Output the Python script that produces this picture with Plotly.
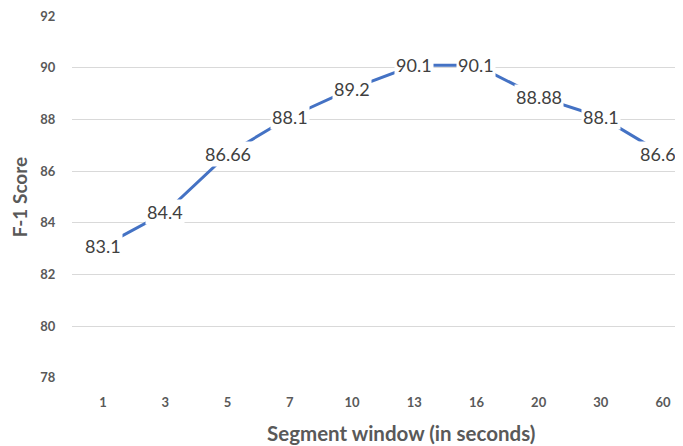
import plotly.graph_objects as go

categories = ["1", "3", "5", "7", "10", "13", "16", "20", "30", "60"]
f1_scores = [83.1, 84.4, 86.66, 88.1, 89.2, 90.1, 90.1, 88.88, 88.1, 86.66]
y_ticks = [78, 80, 82, 84, 86, 88, 90, 92]

FONT = "Lato, Open Sans, sans-serif"
GREY = "#595959"

# page body adds an 8px offset; figure sized so the plot sits where the reference has it
fig = go.Figure()
fig.add_trace(go.Scatter(
    x=list(range(len(categories))), y=f1_scores, mode="lines",
    line=dict(color="#4472C4", width=3), hoverinfo="skip", showlegend=False,
))

for i, v in enumerate(f1_scores):
    fig.add_annotation(
        x=i, y=v, xref="x", yref="y", text=f"{v:g}", showarrow=False,
        bgcolor="white", borderpad=1,
        font=dict(family=FONT, size=18, color="#404040"),
        xanchor="center", yanchor="middle",
    )

fig.add_annotation(
    x=(401 - 72) / (683 - 72), y=-(433 - 378) / (378 - 16),
    xref="paper", yref="paper", text="<b>Segment window (in seconds)</b>",
    showarrow=False, xanchor="center", yanchor="middle",
    font=dict(family=FONT, size=20.5, color=GREY),
)

fig.update_layout(
    width=675, height=438,
    margin=dict(l=64, r=0, t=8, b=68),
    paper_bgcolor="white", plot_bgcolor="white",
    xaxis=dict(
        tickmode="array", tickvals=list(range(len(categories))),
        ticktext=[f"<b>{c}</b>" for c in categories],
        range=[-0.5, 9.32], showgrid=False, zeroline=False, showline=False,
        ticks="outside", ticklen=12, tickcolor="rgba(0,0,0,0)",
        ticklabeloverflow="allow",
        tickfont=dict(family=FONT, size=13, color=GREY),
    ),
    yaxis=dict(
        range=[77.99, 92.01], tickvals=y_ticks, ticktext=[f"<b>{t}</b>" for t in y_ticks],
        showgrid=True, gridcolor="#D9D9D9", gridwidth=1, zeroline=False, showline=False,
        ticks="outside", ticklen=13, tickcolor="rgba(0,0,0,0)",
        ticklabeloverflow="allow",
        tickfont=dict(family=FONT, size=13, color=GREY),
        title=dict(text="<b>F-1 Score</b>", standoff=12,
                   font=dict(family=FONT, size=19, color=GREY)),
    ),
)

fig.write_html("out.html")
